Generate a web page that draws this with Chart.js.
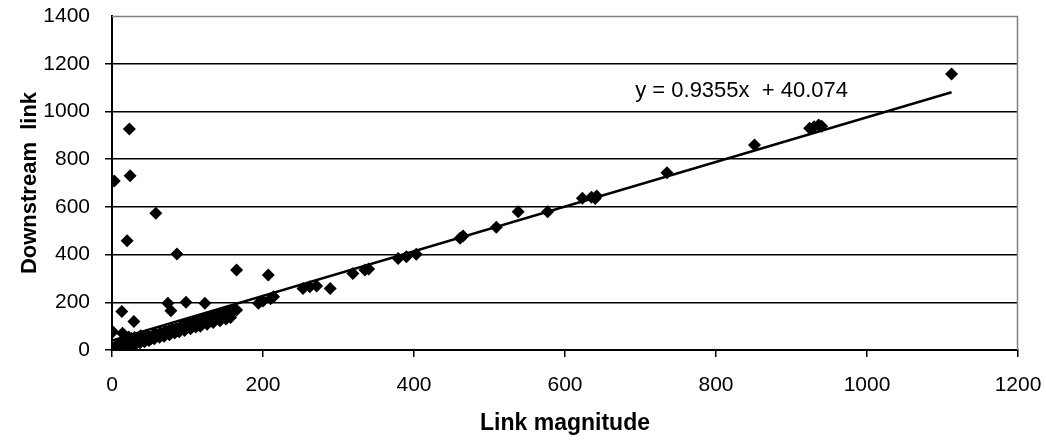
<!DOCTYPE html>
<html>
<head>
<meta charset="utf-8">
<script src="https://cdn.jsdelivr.net/npm/chart.js@4/dist/chart.umd.min.js"></script>
<style>
html,body{margin:0;padding:0;background:#fff;}
canvas{display:block;}
</style>
</head>
<body>
<canvas id="c" width="1046" height="442"></canvas>
<script>
// Link magnitude (x) values
const linkMagnitude = [
  3,23,24,58,20,86,165,207,13,29,74,78,98,123,1,14,
  0,1,2,3,4,5,6,7,8,9,10,11,12,14,15,16,18,19,21,22,25,26,28,30,32,34,36,38,40,42,44,46,48,50,52,55,57,60,62,64,66,68,70,72,75,77,80,82,85,87,90,92,95,97,100,102,105,108,110,113,115,118,120,123,125,128,130,133,135,140,142,145,150,152,155,158,160,163,165,
  6,12,18,24,31,37,43,49,56,63,69,76,83,89,96,104,111,117,126,134,143,151,157,
  194,200,210,214,253,262,271,289,319,335,340,379,390,403,461,465,509,538,577,623,635,642,640,735,851,924,930,936,940,1112
];
// Downstream link (y) values
const downstreamLink = [
  708,926,730,573,458,402,335,314,161,119,196,165,200,196,77,70,
  0,2,5,10,3,8,15,20,6,12,25,14,30,18,40,22,45,28,35,55,30,48,38,52,35,45,40,60,42,50,46,62,52,55,48,60,70,62,58,72,68,65,78,74,80,72,88,84,90,82,95,100,98,104,105,110,108,115,112,120,118,125,122,130,128,135,132,140,138,145,150,148,155,160,158,165,162,170,168,
  2,8,13,18,24,30,35,40,47,53,58,64,71,76,82,89,96,100,108,115,123,130,136,
  196,205,215,223,258,265,268,258,321,335,340,384,391,401,468,478,514,580,580,636,640,645,635,743,859,930,936,943,938,1157
];
const xTicks = [0,200,400,600,800,1000,1200];
const yTicks = [0,200,400,600,800,1000,1200,1400];
const trendSlope = 0.9355;
const trendIntercept = 40.074;
const equationText = "y = 0.9355x  + 40.074";

const points = linkMagnitude.map((x, i) => ({x: x, y: downstreamLink[i]}));
const xMin = Math.min(...linkMagnitude), xMax = Math.max(...linkMagnitude);
const trend = [xMin, xMax].map(x => ({x: x, y: trendSlope * x + trendIntercept}));

const FONT = "'Liberation Sans', Arial, sans-serif";

const deco = {
  id: 'deco',
  afterDraw(chart) {
    const ctx = chart.ctx, a = chart.chartArea;
    ctx.save();
    ctx.strokeStyle = '#808080';
    ctx.lineWidth = 1.5;
    ctx.beginPath();
    ctx.moveTo(a.left, a.top + 0.5);
    ctx.lineTo(a.right - 0.5, a.top + 0.5);
    ctx.lineTo(a.right - 0.5, a.bottom);
    ctx.stroke();
    const xs = chart.scales.x, ys = chart.scales.y;
    ctx.fillStyle = '#000';
    ctx.font = "22px " + FONT;
    ctx.textAlign = 'left';
    ctx.textBaseline = 'middle';
    ctx.fillText(equationText, xs.getPixelForValue(693), ys.getPixelForValue(1085));
    ctx.restore();
  }
};

new Chart(document.getElementById('c'), {
  type: 'scatter',
  data: {
    datasets: [
      {
        type: 'line',
        data: trend,
        borderColor: '#000',
        borderWidth: 2.5,
        pointRadius: 0,
        fill: false,
        order: 0
      },
      {
        data: points,
        pointStyle: 'rectRot',
        pointRadius: 6.5,
        pointBackgroundColor: '#000',
        pointBorderWidth: 0,
        order: 1
      }
    ]
  },
  options: {
    responsive: false,
    animation: false,
    events: [],
    layout: {padding: {left: 0, right: 28, top: 16, bottom: 0}},
    plugins: {legend: {display: false}, tooltip: {enabled: false}},
    scales: {
      x: {
        type: 'linear',
        min: 0, max: 1200,
        afterBuildTicks(s) { s.ticks = xTicks.map(v => ({value: v})); },
        afterFit(s) { s.height = 92; s.paddingLeft = 0; s.paddingRight = 0; },
        grid: {drawOnChartArea: false, color: '#000', tickLength: 7, lineWidth: 1.5},
        border: {color: '#000', width: 2},
        ticks: {color: '#000', font: {family: FONT, size: 21}, padding: 16, maxRotation: 0, callback: v => String(v)},
        title: {display: true, text: 'Link magnitude', color: '#000', font: {family: FONT, size: 23, weight: 'bold'}, padding: {top: 0, bottom: 5}}
      },
      y: {
        type: 'linear',
        min: 0, max: 1400,
        afterBuildTicks(s) { s.ticks = yTicks.map(v => ({value: v})); },
        afterFit(s) { s.width = 112; s.paddingTop = 0; s.paddingBottom = 0; },
        grid: {color: (c) => c.tick && c.tick.value === 1400 ? 'rgba(0,0,0,0)' : '#000', lineWidth: 1.5, tickLength: 7},
        border: {color: '#000', width: 2},
        ticks: {color: '#000', font: {family: FONT, size: 21}, padding: 15, callback: v => String(v)},
        title: {display: true, text: 'Downstream  link', color: '#000', font: {family: FONT, size: 22, weight: 'bold'}, padding: {top: 17, bottom: 0}}
      }
    }
  },
  plugins: [deco]
});
</script>
</body>
</html>
